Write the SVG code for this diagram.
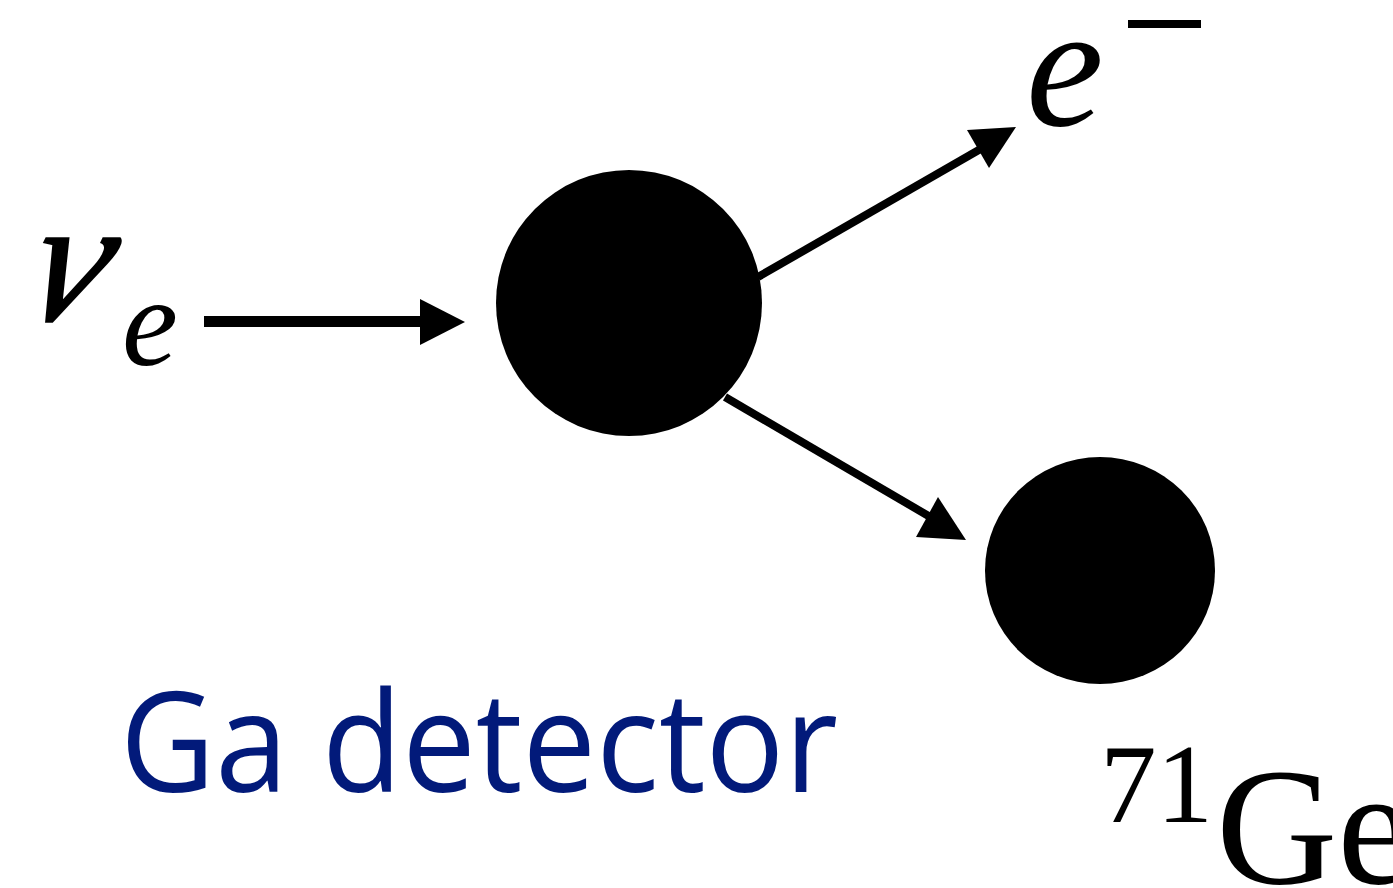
<svg xmlns="http://www.w3.org/2000/svg" width="1393" height="888" viewBox="0 0 1393 888">
<style>
.sym{font-family:"Liberation Serif","Times New Roman",serif;font-style:italic;fill:#000}
.rm{font-family:"Liberation Serif","Times New Roman",serif;fill:#000}
.lbl{font-family:"Open Sans","Noto Sans",sans-serif;fill:#021a7a}
.edge{stroke:#000;fill:none}
.head{fill:#000}
.ball{fill:#000}
</style>
<rect width="1393" height="888" fill="#fff"/>
<g id="connectors">
<line class="edge" x1="204" y1="321.5" x2="424" y2="321.5" stroke-width="11"/>
<polygon class="head" points="420,299 465,322 420,345"/>
<line class="edge" x1="758" y1="277" x2="984" y2="147" stroke-width="8"/>
<polygon class="head" points="967,130 1016,127 989,168"/>
<line class="edge" x1="725" y1="397" x2="932" y2="518" stroke-width="8"/>
<polygon class="head" points="938,497 966,540 916,537"/>
</g>
<g id="nu_e">
<text class="sym" transform="translate(18,320) skewX(-17)" x="0" y="0" font-size="178" stroke="#000" stroke-width="2">ν</text>
<text class="sym" x="122" y="365" font-size="126">e</text>
</g>
<g id="target">
<circle class="ball" cx="629" cy="303" r="133"/>
</g>
<g id="electron">
<text class="sym" x="1026" y="125" font-size="175">e</text>
<rect x="1128" y="20" width="73" height="8" fill="#000"/>
</g>
<g id="ge71">
<ellipse class="ball" cx="1100" cy="570.5" rx="115" ry="113.5"/>
<text class="rm" x="1100" y="822" font-size="113">71</text>
<text class="rm" x="1216" y="883" font-size="168">Ge</text>
</g>
<g id="label">
<text class="lbl" x="120" y="792" font-size="140" textLength="718" lengthAdjust="spacingAndGlyphs">Ga detector</text>
</g>
</svg>
